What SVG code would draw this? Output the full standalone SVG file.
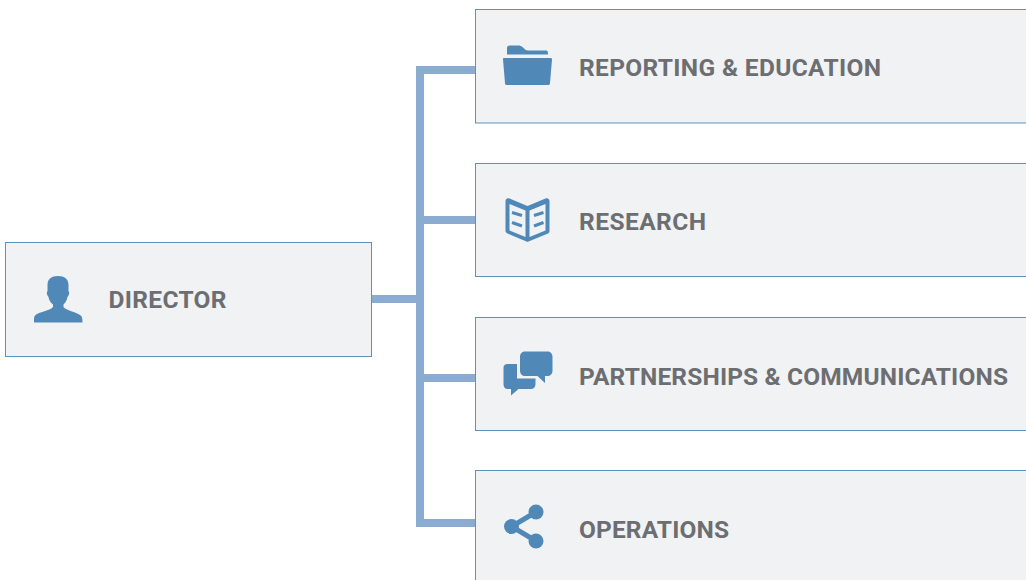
<svg xmlns="http://www.w3.org/2000/svg" width="1026" height="580" viewBox="0 0 1026 580">
<style>
.box{fill:#f1f2f4;stroke:#5b93bf;stroke-width:1}
.lbl{font-family:"Roboto","Liberation Sans",sans-serif;font-weight:700;font-size:24.5px;fill:#6d6e71}
.ico{fill:#5089b8}
.bar{fill:#8aacd0}
</style>
<g id="connectors">
<rect class="bar" x="372" y="295" width="52" height="8"/>
<path class="bar" d="M416 66H476V74H424V216H476V224H424V374H476V382H424V519H476V527H416Z"/>
</g>
<g id="director">
<rect class="box" x="5.500" y="242.500" width="366" height="114"/>
<path class="ico" d="M58 276C64.500 276 68.500 279 68.500 285V291C69.500 292 69.500 295 67.500 297C67 300 65.500 302.500 63.500 304.500V307C66 310.500 76 312 80 315C82 316 82.500 318 82.500 322.500H34V319C34 316 35 315 38 313.500C42 311.500 50 310.500 53 307V304.500C50.500 302.500 49 300 48.500 297C46.500 295 46.500 292 47.500 291V285C47.500 279 51.500 276 58 276Z"/>
<text class="lbl" x="108.500" y="308" textLength="118">DIRECTOR</text>
</g>
<g id="reporting">
<rect class="box" x="475.500" y="9.500" width="570" height="113.500"/>
<path class="ico" d="M507 54.500V48C507 46.500 508 45.500 509.500 45.500H518C520 45.500 521.500 46 523 47.500C525 49.500 526 50.500 528 50.500H546.500C547.500 50.500 548 51.500 548 54.500Z"/>
<path class="ico" d="M504 58H550.500C551.500 58 552 58.500 552 59.500L550 83C550 84.500 549 85 548 85H507C505.500 85 505 84.500 505 83L503 59.500C503 58.500 503 58 504 58Z"/>
<text class="lbl" x="579" y="76" textLength="302">REPORTING &amp; EDUCATION</text>
</g>
<g id="research">
<rect class="box" x="475.500" y="163.500" width="570" height="113"/>
<path class="ico" fill-rule="evenodd" d="M505.500 201C505.500 199 507.500 197.500 509.500 198.500L527.500 206L545.500 198.500C547.500 197.500 549.500 199 549.500 201V231C549.500 232 549 233 548 233.500L528.500 241.500C527.500 242 527 242 526.500 241.500L507.500 233.500C506.500 233 505.500 232 505.500 231ZM509.500 204V230.500L525.500 237V210.500ZM545.500 204L529.500 210.500V237L545.500 230.500Z"/>
<path d="M512 212.500L522 215.500M512 222.500L522 226M534 215.500L543.500 212.500M534 226L543.500 222.500" stroke="#5089b8" stroke-width="3" fill="none"/>
<text class="lbl" x="579" y="230" textLength="127">RESEARCH</text>
</g>
<g id="partnerships">
<rect class="box" x="475.500" y="317.500" width="570" height="113"/>
<path class="ico" d="M525.500 351.500H547C550.500 351.500 552.500 353.500 552.500 357V370.500C552.500 374 550.500 376 547 376H545V383L537.500 376H525.500C522 376 520 374 520 370.500V357C520 353.500 522 351.500 525.500 351.500Z"/>
<path class="ico" d="M507.500 364H517V378.500H535.500V384C535.500 387 533.500 389 531 389H518.500L511 395.500V389H507.500C505 389 503.500 387 503.500 384V368C503.500 365.500 505 364 507.500 364Z"/>
<text class="lbl" x="579" y="385" textLength="429">PARTNERSHIPS &amp; COMMUNICATIONS</text>
</g>
<g id="operations">
<rect class="box" x="475.500" y="470.500" width="570" height="130"/>
<path d="M536 512L511.500 526.500L536 541" stroke="#5089b8" stroke-width="5" fill="none"/>
<circle class="ico" cx="536" cy="512" r="7.500"/>
<circle class="ico" cx="511.500" cy="526.500" r="7.500"/>
<circle class="ico" cx="536" cy="541" r="7.500"/>
<text class="lbl" x="579" y="538" textLength="150">OPERATIONS</text>
</g>
</svg>
